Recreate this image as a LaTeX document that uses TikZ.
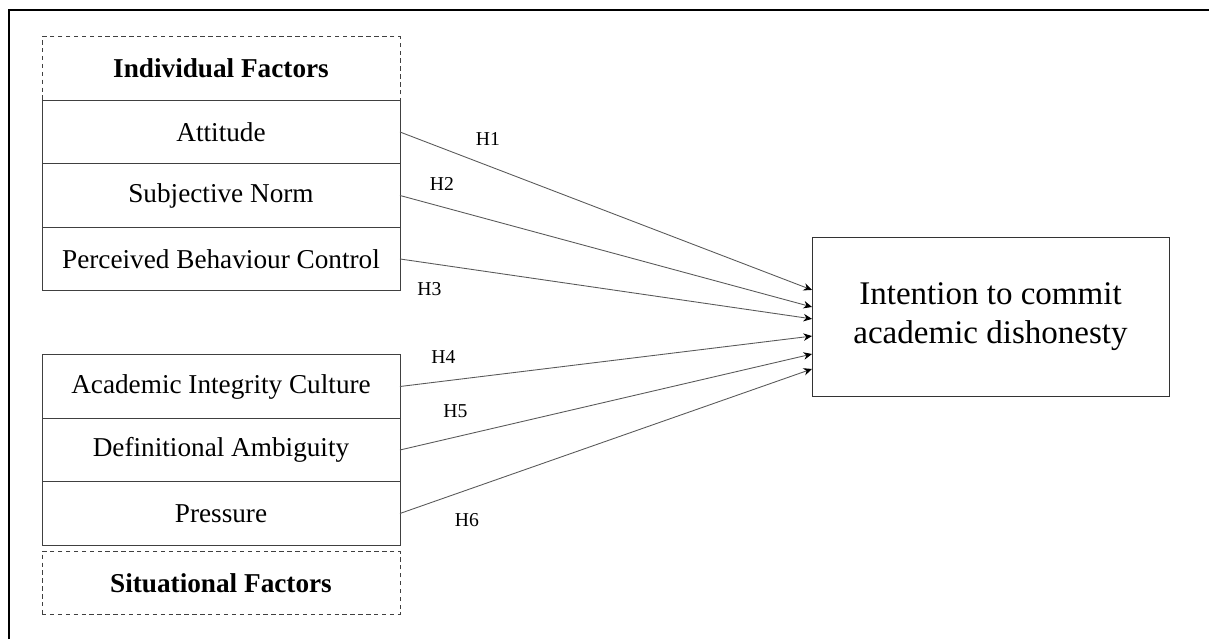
\documentclass[tikz,border=0pt]{standalone}
\usepackage{fontspec}
\setmainfont{Liberation Serif}
\usetikzlibrary{arrows.meta, positioning, calc}

\begin{document}
\begin{tikzpicture}[x=0.02cm, y=-0.02cm,
  factor/.style={draw=black!75, minimum width=7.16cm, minimum height=1.27cm, outer sep=0pt, inner sep=0pt, font=\fontsize{15.5}{18}\selectfont},
  group/.style={factor, dash pattern=on 2.5pt off 2pt, font=\fontsize{15.5}{18}\selectfont\bfseries},
  outcome/.style={draw=black!80, minimum width=7.14cm, minimum height=3.18cm, align=center, outer sep=0pt, font=\fontsize{18.8}{22.2}\selectfont},
  hyp/.style={-{Stealth[length=1.7mm, width=1.5mm, color=black]}, draw=black!65, line width=0.5pt},
  hlabel/.style={inner sep=0pt, font=\fontsize{11.2}{13}\selectfont}
]
  \useasboundingbox (0,0) rectangle (1209,639);

  % Frame (only top and left edges show)
  \draw[line width=1.1pt] (9,639) -- (9,10) -- (1209,10);

  % Individual factors
  \node[group] (indiv) at (221,68.5) {Individual Factors};
  \node[factor, below=0pt of indiv] (att) {Attitude};
  \node[factor, below=0pt of att] (norm) {Subjective Norm};
  \node[factor, below=0pt of norm] (pbc) {Perceived Behaviour Control};

  % Situational factors
  \node[factor] (aic) at (221,386.5) {Academic Integrity Culture};
  \node[factor, below=0pt of aic] (amb) {Definitional Ambiguity};
  \node[factor, below=0pt of amb] (pres) {Pressure};
  \node[group, below=0.12cm of pres] (situ) {Situational Factors};

  % Outcome
  \node[outcome] (intent) at (990.5,316.5) {Intention to commit\\academic dishonesty};

  % Hypotheses
  \draw[hyp] (att.east)  -- ($(intent.north west)!0.333!(intent.south west)$);
  \draw[hyp] (norm.east) -- ($(intent.north west)!0.440!(intent.south west)$);
  \draw[hyp] (pbc.east)  -- ($(intent.north west)!0.515!(intent.south west)$);
  \draw[hyp] (aic.east)  -- ($(intent.north west)!0.623!(intent.south west)$);
  \draw[hyp] (amb.east)  -- ($(intent.north west)!0.736!(intent.south west)$);
  \draw[hyp] (pres.east) -- ($(intent.north west)!0.830!(intent.south west)$);

  \node[hlabel] (h1) at (488,139.5) {H1};
  \node[hlabel] (h2) at (442,183.5) {H2};
  \node[hlabel] (h3) at (429.5,289.5) {H3};
  \node[hlabel] (h4) at (443.5,357.5) {H4};
  \node[hlabel] (h5) at (455.5,411) {H5};
  \node[hlabel] (h6) at (467,520) {H6};

\end{tikzpicture}
\end{document}
